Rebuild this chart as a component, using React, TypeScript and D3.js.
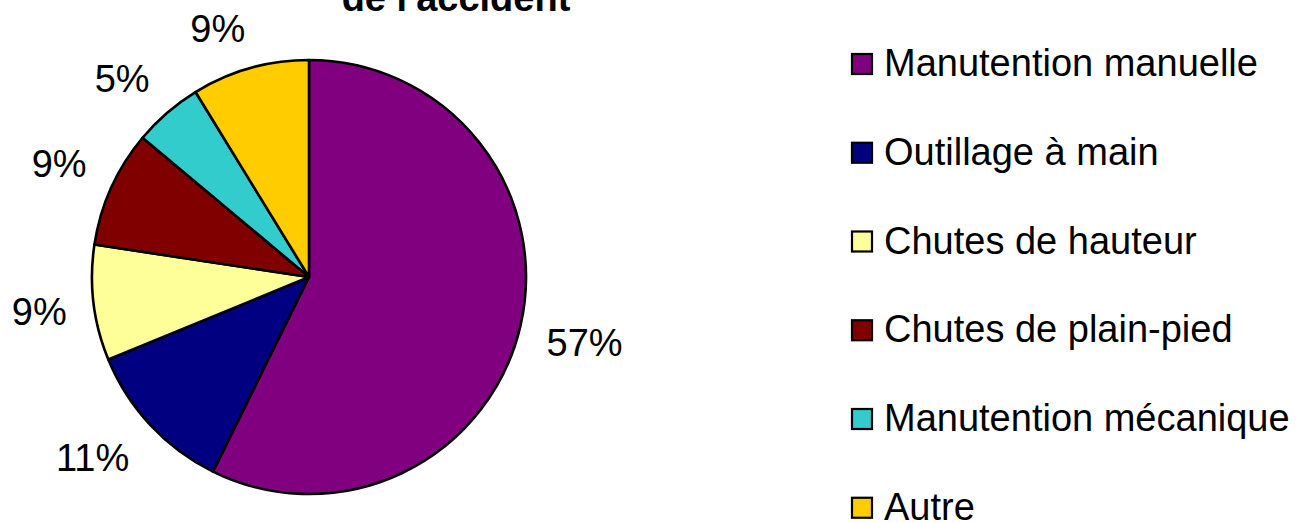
import React from "react";
import * as d3 from "d3";

const categories = [
  "Manutention manuelle",
  "Outillage à main",
  "Chutes de hauteur",
  "Chutes de plain-pied",
  "Manutention mécanique",
  "Autre",
];
const values = [57.3, 11.49, 8.6, 8.7, 5.15, 8.76];
const colors = ["#800080", "#000080", "#FFFF99", "#800000", "#33CCCC", "#FFCC00"];
const titleText = "de l'accident";

const W = 1297;
const H = 523;
const cx = 309;
const cy = 277;
const R = 217;
const FS = 38;
const FONT = "'Liberation Sans', Arial, sans-serif";

export default function App() {
  const total = d3.sum(values);
  const pie = d3
    .pie<number>()
    .sort(null)
    .value((d) => d)
    .startAngle(0)
    .endAngle(2 * Math.PI);
  const arcs = pie(values);
  const arcGen = d3.arc<d3.PieArcDatum<number>>().innerRadius(0).outerRadius(R);

  const labels = arcs.map((a, i) => {
    const pct = Math.round((values[i] / total) * 100);
    const txt = `${pct}%`;
    const mid = (a.startAngle + a.endAngle) / 2;
    const dx = Math.sin(mid);
    const dy = -Math.cos(mid);
    const p = R + 27;
    const px = cx + p * dx;
    const py = cy + p * dy;
    const nd = String(pct).length;
    const w = FS * (0.556 * nd + 0.889);
    const h = FS * 0.716;
    const sx = Math.max(-1, Math.min(1, dx / 0.3));
    const sy = Math.max(-1, Math.min(1, dy / 0.3));
    const lx = px + (sx * w) / 2;
    const ly = py + (sy * h) / 2;
    return { txt, x: lx, y: ly + h / 2 };
  });

  const legendX = 852;
  const legendY0 = 76;
  const legendStep = 88.75;

  return (
    <svg
      width={W}
      height={H}
      style={{ position: "absolute", left: 0, top: 0, background: "#fff" }}
      fontFamily={FONT}
    >
      <text x={456} y={11} textAnchor="middle" fontSize={FS} fontWeight="bold" fill="#000">
        {titleText}
      </text>
      <g transform={`translate(${cx},${cy})`}>
        {arcs.map((a, i) => (
          <path key={i} d={arcGen(a) || ""} fill={colors[i]} stroke="#000" strokeWidth={2.6} strokeLinejoin="round" />
        ))}
      </g>
      {labels.map((l, i) => (
        <text key={i} x={l.x} y={l.y} textAnchor="middle" fontSize={FS} fill="#000">
          {l.txt}
        </text>
      ))}
      {categories.map((c, i) => {
        const by = legendY0 + i * legendStep;
        return (
          <g key={c}>
            <rect x={legendX} y={by - 22} width={20} height={20} fill={colors[i]} stroke="#000" strokeWidth={2.2} />
            <text x={884} y={by} fontSize={FS} fill="#000">
              {c}
            </text>
          </g>
        );
      })}
    </svg>
  );
}
